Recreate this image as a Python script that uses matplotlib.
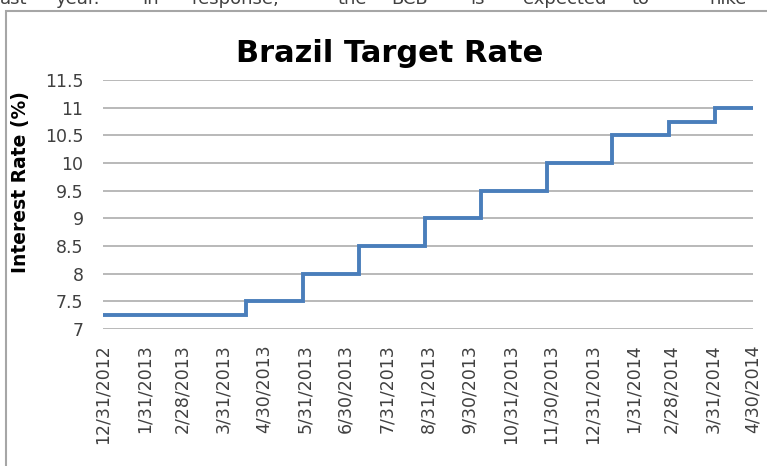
import matplotlib
matplotlib.use("Agg")
import matplotlib.pyplot as plt
from matplotlib.patches import Rectangle
import pandas as pd

# ---- data ----
change_dates = ["2012-12-31", "2013-04-17", "2013-05-29", "2013-07-10", "2013-08-28",
                "2013-10-09", "2013-11-27", "2014-01-15", "2014-02-26", "2014-04-02",
                "2014-04-30"]
rates = [7.25, 7.5, 8.0, 8.5, 9.0, 9.5, 10.0, 10.5, 10.75, 11.0, 11.0]
tick_dates = ["2012-12-31", "2013-01-31", "2013-02-28", "2013-03-31", "2013-04-30",
              "2013-05-31", "2013-06-30", "2013-07-31", "2013-08-31", "2013-09-30",
              "2013-10-31", "2013-11-30", "2013-12-31", "2014-01-31", "2014-02-28",
              "2014-03-31", "2014-04-30"]
tick_labels = ["12/31/2012", "1/31/2013", "2/28/2013", "3/31/2013", "4/30/2013",
               "5/31/2013", "6/30/2013", "7/31/2013", "8/31/2013", "9/30/2013",
               "10/31/2013", "11/30/2013", "12/31/2013", "1/31/2014", "2/28/2014",
               "3/31/2014", "4/30/2014"]
y_ticks = [7, 7.5, 8, 8.5, 9, 9.5, 10, 10.5, 11, 11.5]
y_tick_labels = ["7", "7.5", "8", "8.5", "9", "9.5", "10", "10.5", "11", "11.5"]
top_words = ["ast", "year.", "In", "response,", "the", "BCB", "is", "expected", "to", "hike"]
top_word_x = [0, 56, 142, 191, 338, 391, 470, 523, 631, 709]

W, H = 767, 466
fig = plt.figure(figsize=(W / 100, H / 100), dpi=100)
fig.patch.set_facecolor("white")

# surrounding frame (cropped chart border)
fig.patches.append(Rectangle((5.5 / W, -0.1), 1.2, 1 - 10.5 / H + 0.1,
                             transform=fig.transFigure, fill=False,
                             edgecolor="#A6A6A6", linewidth=1.5))

# cropped text line at the very top
for w, x in zip(top_words, top_word_x):
    fig.text(x / W, 1 - 4.5 / H, w, fontsize=13, color="#404040",
             va="baseline", ha="left")

ax = fig.add_axes([103 / W, 1 - 329 / H, (753 - 103) / W, (329 - 80) / H])

x = pd.to_datetime(change_dates)
ax.plot(x, rates, drawstyle="steps-post", color="#4A7EBB", linewidth=2.8,
        solid_joinstyle="miter")

ax.set_xlim(pd.Timestamp(tick_dates[0]), pd.Timestamp(tick_dates[-1]))
ax.set_ylim(7, 11.5)
ax.set_yticks(y_ticks)
ax.set_yticklabels(y_tick_labels)
ax.set_xticks(pd.to_datetime(tick_dates))
ax.set_xticklabels(tick_labels, rotation=90)

ax.grid(axis="y", color="#A6A6A6", linewidth=1.1)
ax.set_axisbelow(True)
for s in ax.spines.values():
    s.set_visible(False)
ax.tick_params(axis="both", length=0, labelsize=12.5, colors="#404040")
ax.tick_params(axis="y", pad=14)
ax.tick_params(axis="x", pad=11)

ax.set_ylabel("Interest Rate (%)", fontsize=13.5, fontweight="bold", color="black")
ax.yaxis.set_label_coords((30 - 103) / (753 - 103), (329 - 182) / (329 - 80))

fig.text(390 / W, 1 - 53 / H, "Brazil Target Rate", fontsize=22, fontweight="bold",
         ha="center", va="center", color="black")

fig.savefig("out.png", dpi=100)
